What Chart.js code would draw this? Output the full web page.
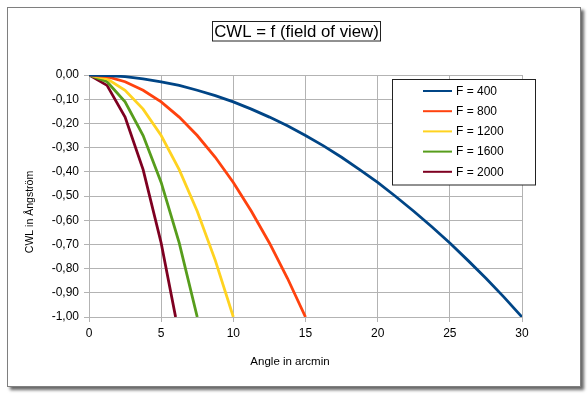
<!DOCTYPE html>
<html>
<head>
<meta charset="utf-8">
<script src="https://cdn.jsdelivr.net/npm/chart.js@4"></script>
<style>
  body { margin: 0; background: #fff; }
  #wrap { position: relative; width: 588px; height: 394px; }
  #frame {
    position: absolute; left: 7px; top: 7px; width: 572px; height: 378px;
    border: 1px solid #7f7f7f; background: #fff;
    box-shadow: 3px 3px 3px rgba(0, 0, 0, 0.6);
  }
  #myChart { position: absolute; left: 0; top: 0; }
</style>
</head>
<body>
<div id="wrap">
  <div id="frame"></div>
  <canvas id="myChart" width="588" height="394"></canvas>
</div>
<script>
const chartTitle = 'CWL = f (field of view)';
const xTitle = 'Angle in arcmin';
const yTitle = 'CWL in \u00c5ngstr\u00f6m';

// angle in arcmin
const angles = [0, 1.25, 2.5, 3.75, 5, 6.25, 7.5, 8.75, 10, 11.25, 12.5, 13.75, 15,
                16.25, 17.5, 18.75, 20, 21.25, 22.5, 23.75, 25, 26.25, 27.5, 28.75, 30];
const angles2000 = [0, 1.25, 2.5, 3.75, 5, 6];

const labels = ['F = 400', 'F = 800', 'F = 1200', 'F = 1600', 'F = 2000'];
const f400 = [0, -0.002, -0.007, -0.016, -0.028, -0.043, -0.063, -0.085, -0.111, -0.141, -0.174, -0.210, -0.250,
              -0.293, -0.340, -0.391, -0.444, -0.502, -0.563, -0.627, -0.694, -0.766, -0.840, -0.918, -1.000];
const f800 = [0, -0.007, -0.028, -0.063, -0.111, -0.174, -0.250, -0.340, -0.444, -0.563, -0.694, -0.840, -1.000];
const f1200 = [0, -0.016, -0.063, -0.141, -0.250, -0.391, -0.563, -0.766, -1.000];
const f1600 = [0, -0.028, -0.111, -0.250, -0.444, -0.694, -1.000];
const f2000 = [0, -0.043, -0.174, -0.391, -0.694, -1.000];

const colors = ['#004586', '#ff420e', '#ffd320', '#579d1c', '#7e0021'];

const FONT = '"Liberation Sans", Arial, sans-serif';
Chart.defaults.font.family = FONT;
Chart.defaults.color = '#000';

function points(xs, ys) {
  return ys.map((y, i) => ({ x: xs[i], y: y }));
}

const series = [
  points(angles, f400),
  points(angles, f800),
  points(angles, f1200),
  points(angles, f1600),
  points(angles2000, f2000)
];

// title box, legend box and axis titles
const decorations = {
  id: 'decorations',
  afterDraw(chart) {
    const ctx = chart.ctx;
    ctx.save();

    // title in a box
    ctx.fillStyle = '#fff';
    ctx.fillRect(212.5, 21.5, 168, 19.5);
    ctx.strokeStyle = '#222';
    ctx.lineWidth = 1;
    ctx.strokeRect(212.5, 21.5, 168, 19.5);
    ctx.fillStyle = '#000';
    ctx.font = '16.8px ' + FONT;
    ctx.textAlign = 'center';
    ctx.textBaseline = 'middle';
    ctx.fillText(chartTitle, 296.5, 32);

    // axis titles
    ctx.font = '11.5px ' + FONT;
    ctx.fillText(xTitle, 290, 362);
    ctx.save();
    ctx.translate(30, 212);
    ctx.rotate(-Math.PI / 2);
    ctx.font = '10.5px ' + FONT;
    ctx.fillText(yTitle, 0, 0);
    ctx.restore();

    // legend
    ctx.fillStyle = '#fff';
    ctx.fillRect(392.5, 79.5, 143, 105.5);
    ctx.strokeStyle = '#222';
    ctx.strokeRect(392.5, 79.5, 143, 105.5);
    ctx.font = '12px ' + FONT;
    ctx.textAlign = 'left';
    chart.data.datasets.forEach((ds, i) => {
      const y = 91 + i * 20.2;
      ctx.strokeStyle = ds.borderColor;
      ctx.lineWidth = 2;
      ctx.beginPath();
      ctx.moveTo(423, y);
      ctx.lineTo(452, y);
      ctx.stroke();
      ctx.fillStyle = '#000';
      ctx.fillText(ds.label, 456, y + 0.5);
    });

    ctx.restore();
  }
};

const ctx = document.getElementById('myChart').getContext('2d');
const myChart = new Chart(ctx, {
  type: 'line',
  data: {
    datasets: series.map((d, i) => ({
      label: labels[i],
      data: d,
      borderColor: colors[i],
      backgroundColor: colors[i],
      borderWidth: 2.8,
      pointRadius: 0,
      tension: 0,
      fill: false
    }))
  },
  options: {
    responsive: false,
    animation: false,
    layout: { padding: { left: 7, right: 66, top: 75, bottom: 8 } },
    plugins: {
      legend: { display: false },
      title: { display: false },
      tooltip: { enabled: false }
    },
    scales: {
      x: {
        type: 'linear',
        min: 0,
        max: 30,
        ticks: { stepSize: 5, padding: 4, font: { size: 12 }, maxRotation: 0 },
        grid: { color: '#b3b3b3', tickLength: 5 },
        border: { color: '#b3b3b3' },
        afterFit: (scale) => { scale.height = 69; }
      },
      y: {
        min: -1,
        max: 0,
        ticks: {
          stepSize: 0.1,
          padding: 5,
          font: { size: 12 },
          callback: (v) => (Math.abs(v) < 1e-9 ? 0 : v).toFixed(2).replace('.', ',')
        },
        grid: { color: '#b3b3b3', tickLength: 5 },
        border: { color: '#b3b3b3' },
        afterFit: (scale) => { scale.width = 82; }
      }
    }
  },
  plugins: [decorations]
});
</script>
</body>
</html>
